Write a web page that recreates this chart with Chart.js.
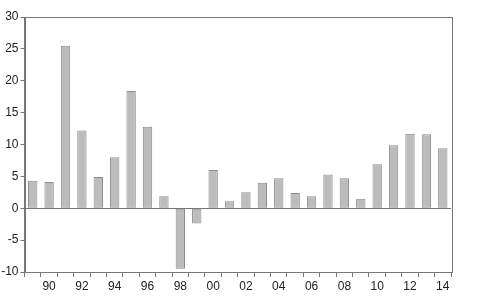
<!DOCTYPE html>
<html>
<head>
<meta charset="utf-8">
<script src="https://cdn.jsdelivr.net/npm/chart.js@4"></script>
<style>
html,body{margin:0;padding:0;background:#fff;}
#wrap{width:500px;height:306px;position:relative;}
</style>
</head>
<body>
<div id="wrap"><canvas id="c"></canvas></div>
<script>
const years = ["1989","1990","1991","1992","1993","1994","1995","1996","1997","1998","1999","2000","2001","2002","2003","2004","2005","2006","2007","2008","2009","2010","2011","2012","2013","2014"];
const values = [4.3,4.1,25.5,12.2,4.9,8.0,18.4,12.8,1.9,-9.5,-2.4,6.0,1.1,2.5,4.0,4.7,2.4,1.9,5.3,4.7,1.5,6.9,9.9,11.7,11.6,9.4];
const yTicks = [-10,-5,0,5,10,15,20,25,30];

const frame = {
  id:'frame',
  afterDatasetsDraw(chart){
    const a = chart.chartArea, ctx = chart.ctx;
    ctx.save();
    ctx.strokeStyle = '#777';
    ctx.lineWidth = 1;
    ctx.strokeRect(Math.round(a.left)+0.5, Math.round(a.top)+0.5, Math.round(a.right-a.left), Math.round(a.bottom-a.top));
    ctx.restore();
  }
};

new Chart(document.getElementById('c'), {
  type:'bar',
  data:{
    labels: years,
    datasets:[{
      data: values,
      backgroundColor:'#bcbcbc',
      borderColor:'#8c8c8c',
      borderWidth:1,
      borderSkipped:false,
      categoryPercentage:1,
      barPercentage:0.57
    }]
  },
  options:{
    responsive:true,
    maintainAspectRatio:false,
    animation:false,
    layout:{padding:{left:0,right:49,top:17,bottom:0}},
    plugins:{legend:{display:false},tooltip:{enabled:false}},
    scales:{
      x:{
        offset:true,
        afterFit(s){ s.height = 34; },
        grid:{display:true, drawOnChartArea:false, offset:true, tickLength:5, color:'#777', tickColor:'#777'},
        border:{display:true,color:'#777'},
        ticks:{
          autoSkip:false, maxRotation:0, minRotation:0, padding:2,
          color:'#222', font:{family:'Liberation Sans, Arial', size:12},
          callback(v,i){ const y = +years[i]; return y % 2 === 0 ? years[i].slice(2) : ''; }
        }
      },
      y:{
        min:-10, max:30,
        afterFit(s){ s.width = 24.5; },
        afterBuildTicks(s){ s.ticks = yTicks.map(v=>({value:v})); },
        grid:{
          drawOnChartArea:true, tickLength:4,
          color(ctx){ return ctx.tick && ctx.tick.value === 0 ? '#777' : 'rgba(0,0,0,0)'; },
          tickColor:'#777'
        },
        border:{display:true,color:'#777'},
        ticks:{
          stepSize:5, padding:2,
          color:'#222', font:{family:'Liberation Sans, Arial', size:12}
        }
      }
    }
  },
  plugins:[frame]
});
</script>
</body>
</html>
